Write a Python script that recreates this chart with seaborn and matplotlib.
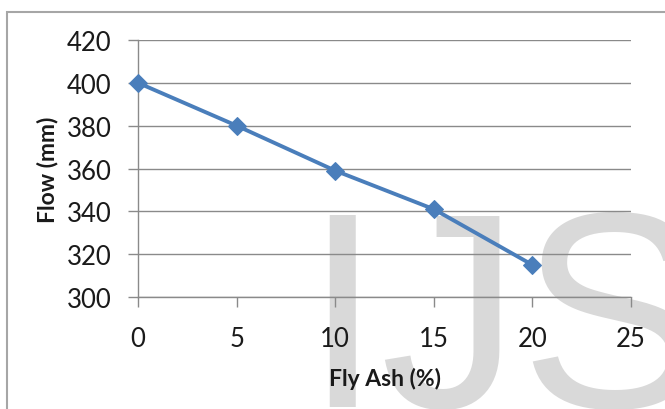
import matplotlib
matplotlib.use("Agg")
import matplotlib.pyplot as plt
import seaborn as sns
import pandas as pd
from matplotlib.patches import Rectangle

# Data
fly_ash = [0, 5, 10, 15, 20]
flow = [400, 380, 359, 341, 315]
x_ticks = [0, 5, 10, 15, 20, 25]
y_ticks = [300, 320, 340, 360, 380, 400, 420]

df = pd.DataFrame({"Fly Ash (%)": fly_ash, "Flow (mm)": flow})

sns.set_theme(style="white")
plt.rcParams['font.family'] = ['Lato', 'DejaVu Sans']

fig = plt.figure(figsize=(6.65, 4.10), dpi=100)
ax = fig.add_axes([138/665, 1 - 298/410, (631 - 138)/665, (298 - 41)/410])

grid_c = '#8a8a8a'
for y in y_ticks:
    ax.axhline(y, color=grid_c, lw=1.0, zorder=1)

# Watermark (behind gridlines and tick labels)
ax.text(303/665, (410 - 407)/410, "IJS", fontsize=201, color='#d9d9d9',
        family='Liberation Sans', ha='left', va='baseline',
        transform=fig.transFigure, zorder=0.5, clip_on=False)

sns.lineplot(data=df, x="Fly Ash (%)", y="Flow (mm)", ax=ax, color='#4a7ebb',
             lw=2.8, marker='D', markersize=9, markeredgecolor='#4a7ebb',
             zorder=5, clip_on=False)

ax.patch.set_alpha(0)
ax.set_xlim(0, 25)
ax.set_ylim(300, 420)
ax.set_xticks(x_ticks)
ax.set_yticks(y_ticks)
ax.tick_params(axis='both', labelsize=18.5, length=7, width=1,
               direction='out', left=True, bottom=True)
ax.tick_params(axis='y', pad=12, colors=grid_c, labelcolor='#1a1a1a')
ax.tick_params(axis='x', pad=14, colors=grid_c, labelcolor='#1a1a1a')
for s in ['top', 'right']:
    ax.spines[s].set_visible(False)
for s in ['left', 'bottom']:
    ax.spines[s].set_color(grid_c)
    ax.spines[s].set_linewidth(1.0)

ax.set_xlabel("Fly Ash (%)", fontsize=16.5, fontweight='bold', color='#1a1a1a')
ax.set_ylabel("Flow (mm)", fontsize=16.5, fontweight='bold', color='#1a1a1a')
ax.xaxis.set_label_coords((385 - 138)/(631 - 138), -(379 - 298)/(298 - 41))
ax.yaxis.set_label_coords(-(138 - 47)/(631 - 138), (298 - 170)/(298 - 41))
ax.xaxis.label.set_va('center')
ax.yaxis.label.set_va('center')

# Outer chart border
fig.patches.append(Rectangle((7/665, -0.2), 1.2, (410 - 13)/410 + 0.2,
                             transform=fig.transFigure, fill=False,
                             edgecolor='#a6a6a6', lw=1.5, zorder=10))

fig.savefig("out.png", dpi=100)
